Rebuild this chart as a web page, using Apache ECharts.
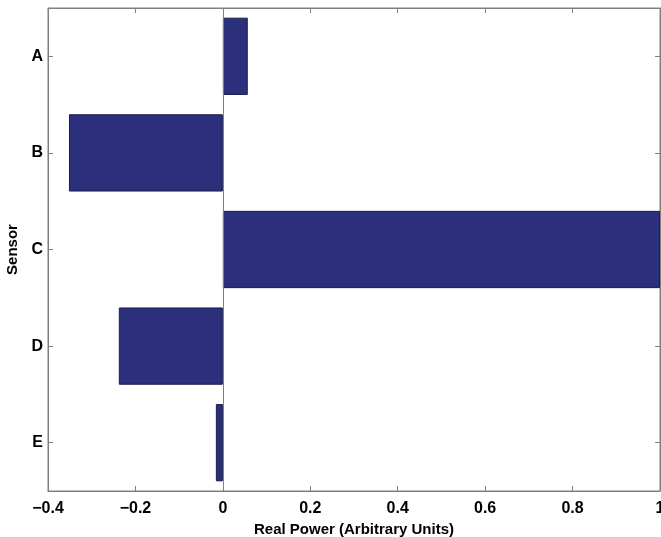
<!DOCTYPE html>
<html>
<head>
<meta charset="utf-8">
<script src="https://cdn.jsdelivr.net/npm/echarts@6/dist/echarts.min.js"></script>
<style>
  html, body { margin: 0; padding: 0; background: #fff; }
  #chart { width: 661px; height: 537px; }
</style>
</head>
<body>
<div id="chart"></div>
<script>
// Sensor readings (real power, arbitrary units)
const sensors = ['A', 'B', 'C', 'D', 'E'];
const realPower = [0.057, -0.352, 1.0, -0.238, -0.016];
const xTicks = [-0.4, -0.2, 0, 0.2, 0.4, 0.6, 0.8, 1];

const axisGray = '#7f7f7f';
const labelFont = { color: '#000', fontWeight: 'bold', fontSize: 15, fontFamily: 'Liberation Sans, Arial, sans-serif' };
const tickFont = Object.assign({}, labelFont, { fontSize: 16 });

const fmt = v => {
  const s = String(Math.round(v * 10) / 10);
  return s.replace('-', '\u2212');
};

const chart = echarts.init(document.getElementById('chart'));
chart.setOption({
  animation: false,
  grid: {
    left: 48, right: 1, top: 8, bottom: 46,
    containLabel: false, outerBoundsMode: 'none',
    show: true, borderColor: axisGray, borderWidth: 1, backgroundColor: '#fff'
  },
  xAxis: [
    {
      type: 'value', min: xTicks[0], max: xTicks[xTicks.length - 1], interval: 0.2,
      position: 'bottom',
      name: 'Real Power (Arbitrary Units)', nameLocation: 'middle', nameGap: 23,
      nameTextStyle: labelFont,
      axisLine: { show: true, onZero: false, lineStyle: { color: axisGray } },
      axisTick: { show: true, inside: true, length: 5, lineStyle: { color: axisGray } },
      axisLabel: Object.assign({ margin: 10, formatter: fmt, hideOverlap: false }, tickFont),
      splitLine: { show: false }
    },
    {
      type: 'value', min: xTicks[0], max: xTicks[xTicks.length - 1], interval: 0.2,
      position: 'top',
      axisLine: { show: true, onZero: false, lineStyle: { color: axisGray } },
      axisTick: { show: true, inside: true, length: 5, lineStyle: { color: axisGray } },
      axisLabel: { show: false },
      splitLine: { show: false }
    }
  ],
  yAxis: [
    {
      type: 'category', data: sensors, inverse: true, position: 'left',
      name: 'Sensor', nameLocation: 'middle', nameGap: 25, nameRotate: 90,
      nameTextStyle: labelFont,
      axisLine: { show: true, onZero: false, lineStyle: { color: axisGray } },
      axisTick: { show: true, inside: true, length: 5, alignWithLabel: true, lineStyle: { color: axisGray } },
      axisLabel: Object.assign({ margin: 5 }, tickFont)
    },
    {
      type: 'category', data: sensors, inverse: true, position: 'right',
      axisLine: { show: true, onZero: false, lineStyle: { color: axisGray } },
      axisTick: { show: true, inside: true, length: 5, alignWithLabel: true, lineStyle: { color: axisGray } },
      axisLabel: { show: false }
    }
  ],
  series: [
    {
      type: 'bar',
      data: realPower,
      barWidth: '80%',
      itemStyle: { color: '#2b2f7c', borderColor: '#1b1d4a', borderWidth: 1 },
      markLine: {
        silent: true,
        symbol: ['none', 'none'],
        label: { show: false },
        lineStyle: { color: axisGray, type: 'solid', width: 1 },
        data: [{ xAxis: 0 }]
      }
    }
  ]
});
</script>
</body>
</html>
